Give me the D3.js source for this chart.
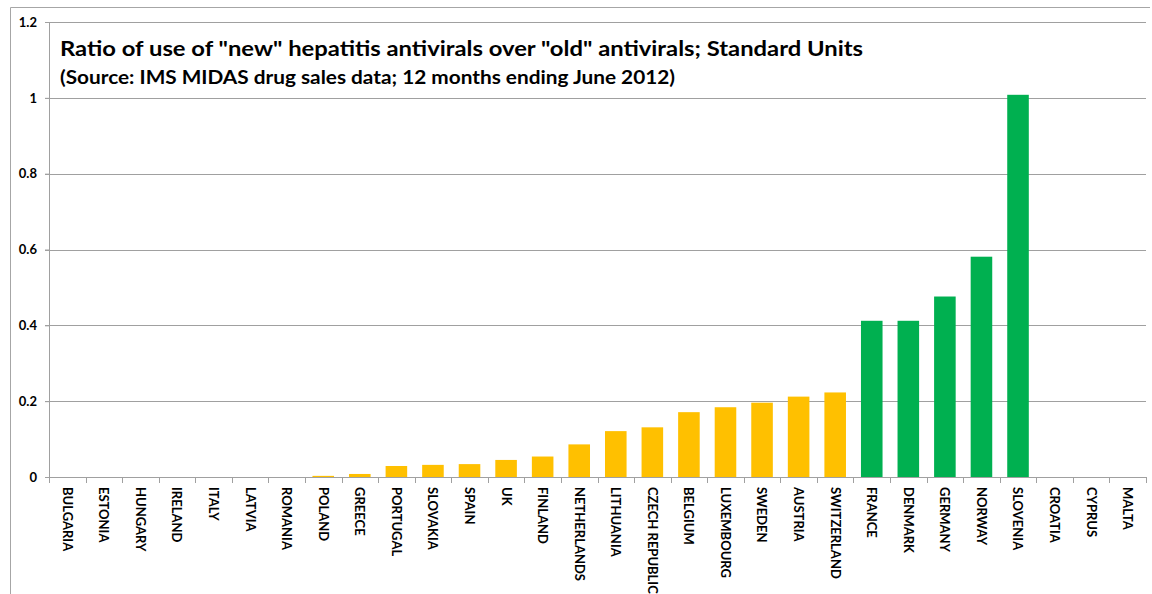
<!DOCTYPE html>
<html>
<head>
<meta charset="utf-8">
<script src="https://cdn.jsdelivr.net/npm/d3@7"></script>
<style>
  body { margin: 0; background: #fff; }
  text { font-family: Lato, "Open Sans", sans-serif; font-weight: bold; fill: #000; }
</style>
</head>
<body>
<div id="chart"></div>
<script>
var countries = ['BULGARIA', 'ESTONIA', 'HUNGARY', 'IRELAND', 'ITALY', 'LATVIA', 'ROMANIA', 'POLAND',
  'GREECE', 'PORTUGAL', 'SLOVAKIA', 'SPAIN', 'UK', 'FINLAND', 'NETHERLANDS', 'LITHUANIA',
  'CZECH REPUBLIC', 'BELGIUM', 'LUXEMBOURG', 'SWEDEN', 'AUSTRIA', 'SWITZERLAND', 'FRANCE',
  'DENMARK', 'GERMANY', 'NORWAY', 'SLOVENIA', 'CROATIA', 'CYPRUS', 'MALTA']
var ratios = [0, 0, 0, 0, 0, 0, 0, 0.003,
  0.008, 0.029, 0.032, 0.034, 0.045, 0.054, 0.086, 0.121,
  0.131, 0.171, 0.184, 0.196, 0.212, 0.223, 0.412,
  0.412, 0.476, 0.581, 1.008, 0, 0, 0]
var groups = ['low', 'low', 'low', 'low', 'low', 'low', 'low', 'low',
  'low', 'low', 'low', 'low', 'low', 'low', 'low', 'low',
  'low', 'low', 'low', 'low', 'low', 'low', 'high',
  'high', 'high', 'high', 'high', 'low', 'low', 'low']
var yTicks = [0, 0.2, 0.4, 0.6, 0.8, 1, 1.2]
var titleLine1 = 'Ratio of use of "new" hepatitis antivirals over "old" antivirals; Standard Units'
var titleLine2 = '(Source: IMS MIDAS drug sales data; 12 months ending June 2012)'

var W = 1152, H = 594
var margin = {top: 22, right: 6, bottom: 117, left: 49}
var width  = W - margin.left - margin.right
var height = H - margin.top - margin.bottom

var svg = d3.select('#chart').append('svg').attr('width', W).attr('height', H)

// outer chart border (cropped: top and left only)
svg.append('path').attr('d', 'M10.5,' + H + 'V7.5H1150')
  .attr('fill', 'none').attr('stroke', '#a6a6a6').attr('stroke-width', 1)

var g = svg.append('g').attr('transform', 'translate(' + margin.left + ',' + margin.top + ')')

var x = d3.scaleBand().domain(countries).range([0, width]).paddingInner(0.41).paddingOuter(0.205)
var y = d3.scaleLinear().domain([0, 1.2]).range([height, 0])
var color = d3.scaleOrdinal().domain(['low', 'high']).range(['#FFC000', '#00B050'])

// gridlines
g.append('g').selectAll('line').data(yTicks.slice(1)).join('line')
  .attr('x1', -4).attr('x2', width)
  .attr('y1', d => Math.round(y(d)) + 0.5).attr('y2', d => Math.round(y(d)) + 0.5)
  .attr('stroke', '#a0a0a0')

// y axis
var yAxis = g.append('g')
  .call(d3.axisLeft(y).tickValues(yTicks).tickSize(4).tickFormat(d => d3.format('')(d)))
yAxis.select('.domain').attr('stroke', '#a0a0a0')
yAxis.selectAll('.tick line').attr('stroke', '#a0a0a0')
yAxis.selectAll('.tick text').attr('x', -12).style('font-size', '13px')

// bars
g.append('g').selectAll('rect').data(countries).join('rect')
  .attr('x', d => x(d))
  .attr('width', x.bandwidth())
  .attr('y', (d, i) => y(ratios[i]))
  .attr('height', (d, i) => height - y(ratios[i]))
  .attr('fill', (d, i) => color(groups[i]))

// x axis with ticks between categories
var step = x.step()
var xb = g.append('g').attr('transform', 'translate(0,' + height + ')')
xb.append('line').attr('x1', 0).attr('x2', width).attr('y1', 0.5).attr('y2', 0.5).attr('stroke', '#a0a0a0')
xb.selectAll('line.sep').data(d3.range(countries.length + 1)).join('line').attr('class', 'sep')
  .attr('x1', d => Math.round(d * step) + 0.5).attr('x2', d => Math.round(d * step) + 0.5)
  .attr('y1', 0).attr('y2', 6).attr('stroke', '#a0a0a0')
xb.selectAll('text').data(countries).join('text')
  .attr('transform', d => 'translate(' + (x(d) + x.bandwidth() / 2) + ',10) rotate(90)')
  .attr('dy', '0.35em')
  .style('font-size', '13px')
  .text(d => d)

// title
svg.append('text').attr('x', 60).attr('y', 56).style('font-size', '21px')
  .attr('textLength', 803).attr('lengthAdjust', 'spacingAndGlyphs').text(titleLine1)
svg.append('text').attr('x', 60).attr('y', 84).style('font-size', '19px')
  .attr('textLength', 615).attr('lengthAdjust', 'spacingAndGlyphs').text(titleLine2)
</script>
</body>
</html>
